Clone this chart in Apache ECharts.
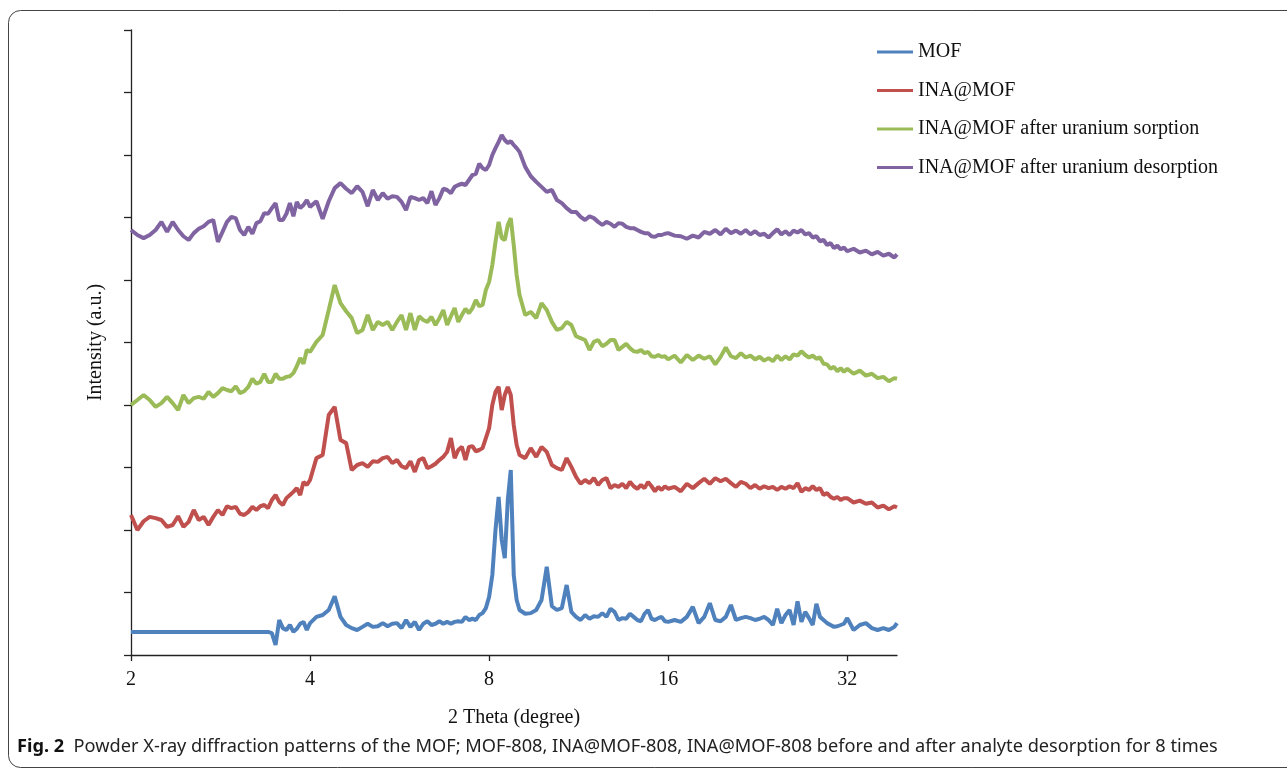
<!DOCTYPE html>
<html>
<head>
<meta charset="utf-8">
<title>PXRD patterns</title>
<script src="https://cdn.jsdelivr.net/npm/echarts@6/dist/echarts.min.js"></script>
<style>
  html, body { margin: 0; padding: 0; background: #fff; }
  #chart { width: 1287px; height: 770px; }
</style>
</head>
<body>
<div id="chart"></div>
<script>
// 2 theta sample positions (degree)
const theta = [
  2, 2.05, 2.1, 2.15, 2.2, 2.25, 2.3, 2.35, 2.4, 2.45, 2.5, 2.55, 2.6, 2.65, 2.7, 2.75, 2.8, 2.85, 2.9, 2.95,
  3, 3.05, 3.1, 3.15, 3.2, 3.25, 3.3, 3.35, 3.4, 3.45, 3.5, 3.55, 3.6, 3.65, 3.7, 3.75, 3.8, 3.85, 3.9, 3.95,
  4, 4.1, 4.2, 4.3, 4.4, 4.5, 4.6, 4.7, 4.8, 4.9, 5, 5.1, 5.2, 5.3, 5.4, 5.5, 5.6, 5.7, 5.8, 5.9,
  6, 6.1, 6.2, 6.3, 6.4, 6.5, 6.6, 6.7, 6.8, 6.9, 7, 7.1, 7.2, 7.3, 7.4, 7.5, 7.6, 7.7, 7.8, 7.9,
  8, 8.1, 8.2, 8.3, 8.4, 8.5, 8.6, 8.7, 8.8, 8.9, 9, 9.2, 9.4, 9.6, 9.8, 10, 10.2, 10.4, 10.6, 10.8,
  11, 11.2, 11.4, 11.6, 11.8, 12, 12.2, 12.4, 12.6, 12.8, 13, 13.2, 13.4, 13.6, 13.8, 14, 14.2, 14.4, 14.6, 14.8,
  15, 15.2, 15.4, 15.6, 15.8,
  16, 16.4, 16.8, 17.2, 17.6, 18, 18.4, 18.8, 19.2, 19.6, 20, 20.4, 20.8, 21.2, 21.6, 22, 22.4, 22.8, 23.2, 23.6,
  24, 24.4, 24.8, 25.2, 25.6, 26, 26.4, 26.8, 27.2, 27.6, 28, 28.4, 28.8, 29.2, 29.6, 30, 30.4, 30.8, 31.2, 31.6,
  32, 32.8, 33.6, 34.4, 35.2, 36, 36.8, 37.6, 38.4, 38.8
];

const mof = [
  0.37, 0.37, 0.37, 0.37, 0.37, 0.37, 0.37, 0.37, 0.37, 0.37, 0.37, 0.37, 0.37, 0.37, 0.37, 0.37, 0.37, 0.37, 0.37, 0.37,
  0.37, 0.37, 0.37, 0.37, 0.37, 0.37, 0.37, 0.37, 0.37, 0.35, 0.16, 0.56, 0.43, 0.40, 0.48, 0.37, 0.42, 0.50, 0.53, 0.40,
  0.51, 0.61, 0.64, 0.72, 0.94, 0.61, 0.48, 0.43, 0.40, 0.45, 0.50, 0.45, 0.46, 0.51, 0.46, 0.50, 0.51, 0.43, 0.56, 0.45,
  0.53, 0.40, 0.50, 0.54, 0.48, 0.50, 0.54, 0.50, 0.53, 0.50, 0.53, 0.54, 0.53, 0.61, 0.56, 0.58, 0.56, 0.64, 0.67, 0.75,
  0.93, 1.28, 2.00, 2.53, 1.84, 1.55, 2.48, 2.96, 1.28, 0.88, 0.72, 0.66, 0.67, 0.72, 0.88, 1.41, 0.78, 0.72, 0.75, 1.12,
  0.69, 0.61, 0.56, 0.64, 0.58, 0.62, 0.61, 0.67, 0.61, 0.74, 0.69, 0.56, 0.59, 0.58, 0.66, 0.61, 0.56, 0.54, 0.66, 0.72,
  0.58, 0.56, 0.59, 0.61, 0.54,
  0.53, 0.56, 0.53, 0.61, 0.77, 0.51, 0.61, 0.83, 0.56, 0.54, 0.61, 0.80, 0.56, 0.59, 0.61, 0.59, 0.56, 0.58, 0.61, 0.56,
  0.48, 0.74, 0.51, 0.64, 0.72, 0.48, 0.86, 0.53, 0.69, 0.59, 0.48, 0.82, 0.61, 0.56, 0.51, 0.48, 0.45, 0.46, 0.48, 0.50,
  0.59, 0.40, 0.48, 0.51, 0.43, 0.40, 0.43, 0.40, 0.45, 0.51
];

const inaMof = [
  2.24, 2.00, 2.14, 2.21, 2.19, 2.16, 2.05, 2.08, 2.22, 2.05, 2.13, 2.32, 2.16, 2.21, 2.08, 2.21, 2.32, 2.24, 2.38, 2.35,
  2.37, 2.26, 2.24, 2.29, 2.37, 2.32, 2.38, 2.40, 2.35, 2.48, 2.56, 2.45, 2.40, 2.51, 2.56, 2.61, 2.67, 2.56, 2.77, 2.72,
  2.80, 3.15, 3.20, 3.84, 3.97, 3.44, 3.39, 2.96, 3.04, 3.07, 3.01, 3.10, 3.09, 3.15, 3.17, 3.07, 3.12, 3.02, 2.99, 3.10,
  2.93, 3.12, 3.15, 2.99, 3.02, 3.06, 3.12, 3.17, 3.25, 3.47, 3.15, 3.28, 3.33, 3.12, 3.33, 3.34, 3.26, 3.28, 3.31, 3.47,
  3.63, 4.00, 4.21, 4.29, 3.92, 4.16, 4.29, 4.16, 3.68, 3.36, 3.20, 3.15, 3.31, 3.17, 3.33, 3.25, 3.04, 2.99, 2.96, 3.15,
  3.01, 2.85, 2.74, 2.80, 2.75, 2.83, 2.72, 2.80, 2.83, 2.67, 2.72, 2.69, 2.74, 2.67, 2.77, 2.70, 2.66, 2.72, 2.67, 2.77,
  2.70, 2.62, 2.69, 2.64, 2.70,
  2.66, 2.69, 2.62, 2.74, 2.67, 2.75, 2.82, 2.74, 2.83, 2.78, 2.82, 2.75, 2.69, 2.77, 2.74, 2.67, 2.72, 2.66, 2.70, 2.67,
  2.69, 2.64, 2.69, 2.66, 2.70, 2.67, 2.75, 2.61, 2.67, 2.64, 2.70, 2.64, 2.67, 2.56, 2.59, 2.53, 2.50, 2.53, 2.48, 2.51,
  2.51, 2.44, 2.47, 2.42, 2.44, 2.36, 2.39, 2.33, 2.38, 2.36
];

const afterSorption = [
  4.00, 4.08, 4.16, 4.08, 3.97, 4.03, 4.13, 4.03, 3.92, 4.16, 4.03, 4.11, 4.13, 4.10, 4.21, 4.13, 4.19, 4.27, 4.24, 4.22,
  4.30, 4.19, 4.22, 4.29, 4.42, 4.34, 4.37, 4.50, 4.37, 4.37, 4.50, 4.42, 4.42, 4.45, 4.46, 4.51, 4.62, 4.75, 4.66, 4.88,
  4.85, 5.01, 5.12, 5.52, 5.92, 5.63, 5.50, 5.39, 5.15, 5.20, 5.44, 5.20, 5.33, 5.28, 5.33, 5.20, 5.33, 5.44, 5.20, 5.47,
  5.20, 5.42, 5.36, 5.33, 5.41, 5.28, 5.39, 5.52, 5.28, 5.42, 5.55, 5.33, 5.44, 5.54, 5.47, 5.55, 5.68, 5.58, 5.60, 5.84,
  5.97, 6.24, 6.61, 6.93, 6.67, 6.64, 6.88, 6.99, 6.56, 6.08, 5.76, 5.44, 5.49, 5.39, 5.63, 5.52, 5.33, 5.20, 5.23, 5.33,
  5.28, 5.10, 5.07, 5.04, 4.88, 5.01, 5.04, 4.94, 4.98, 5.04, 5.04, 4.88, 4.93, 4.98, 4.91, 4.86, 4.85, 4.88, 4.83, 4.85,
  4.78, 4.77, 4.80, 4.77, 4.78,
  4.73, 4.79, 4.68, 4.80, 4.72, 4.79, 4.74, 4.78, 4.65, 4.77, 4.92, 4.78, 4.75, 4.83, 4.76, 4.79, 4.73, 4.77, 4.71, 4.75,
  4.70, 4.79, 4.72, 4.78, 4.73, 4.81, 4.79, 4.86, 4.80, 4.76, 4.79, 4.74, 4.76, 4.66, 4.65, 4.58, 4.61, 4.54, 4.59, 4.53,
  4.58, 4.50, 4.55, 4.47, 4.50, 4.43, 4.45, 4.38, 4.43, 4.42
];

const afterDesorption = [
  6.80, 6.72, 6.67, 6.72, 6.80, 6.93, 6.77, 6.93, 6.80, 6.70, 6.64, 6.75, 6.82, 6.86, 6.93, 6.96, 6.61, 6.77, 6.93, 7.01,
  6.99, 6.80, 6.72, 6.85, 6.74, 6.91, 6.94, 7.07, 7.06, 7.15, 7.23, 6.96, 6.96, 7.06, 7.23, 7.02, 7.25, 7.15, 7.20, 7.28,
  7.17, 7.26, 6.98, 7.26, 7.47, 7.55, 7.46, 7.39, 7.50, 7.41, 7.18, 7.44, 7.28, 7.39, 7.30, 7.34, 7.33, 7.25, 7.12, 7.33,
  7.31, 7.28, 7.31, 7.23, 7.42, 7.20, 7.31, 7.46, 7.44, 7.39, 7.49, 7.52, 7.54, 7.52, 7.60, 7.68, 7.70, 7.86, 7.79, 7.76,
  7.84, 8.00, 8.11, 8.21, 8.32, 8.24, 8.19, 8.22, 8.16, 8.11, 8.05, 7.81, 7.66, 7.57, 7.49, 7.41, 7.44, 7.28, 7.23, 7.15,
  7.09, 7.09, 7.01, 6.96, 7.02, 6.99, 6.93, 6.88, 6.93, 6.90, 6.85, 6.91, 6.90, 6.85, 6.83, 6.83, 6.80, 6.77, 6.75, 6.75,
  6.70, 6.69, 6.72, 6.72, 6.74,
  6.75, 6.71, 6.70, 6.66, 6.71, 6.68, 6.77, 6.74, 6.80, 6.73, 6.82, 6.75, 6.79, 6.74, 6.80, 6.73, 6.78, 6.72, 6.74, 6.68,
  6.75, 6.81, 6.73, 6.78, 6.72, 6.79, 6.76, 6.80, 6.73, 6.75, 6.68, 6.70, 6.62, 6.64, 6.56, 6.59, 6.51, 6.55, 6.49, 6.52,
  6.46, 6.50, 6.44, 6.47, 6.41, 6.45, 6.39, 6.42, 6.36, 6.41
];

const seriesNames = ['MOF', 'INA@MOF', 'INA@MOF after uranium sorption', 'INA@MOF after uranium desorption'];
const seriesColors = ['#4F81BD', '#C0504D', '#9BBB59', '#8064A2'];
const seriesValues = [mof, inaMof, afterSorption, afterDesorption];

const serif = '"Liberation Serif", "Times New Roman", serif';

let myChart = echarts.init(document.getElementById('chart'));
myChart.setOption({
  animation: false,
  backgroundColor: '#fff',
  color: seriesColors,
  grid: {
    left: 131,
    right: 390,
    top: 30,
    bottom: 115
  },
  legend: {
    orient: 'vertical',
    left: 872,
    top: 37,
    itemWidth: 36,
    itemHeight: 3,
    itemGap: 18.5,
    icon: 'rect',
    textStyle: {
      fontFamily: serif,
      fontSize: 20,
      color: '#111'
    },
    data: seriesNames
  },
  xAxis: {
    type: 'log',
    logBase: 2,
    min: 2,
    max: 38.8,
    name: '2 Theta (degree)',
    nameLocation: 'middle',
    nameGap: 53,
    nameTextStyle: { fontFamily: serif, fontSize: 20, color: '#111' },
    axisLine: { lineStyle: { color: '#222', width: 1.3 } },
    axisTick: { length: 6, lineStyle: { color: '#222', width: 1.3 } },
    axisLabel: {
      fontFamily: serif,
      fontSize: 20,
      color: '#111',
      margin: 15,
      showMaxLabel: false
    },
    splitLine: { show: false }
  },
  yAxis: {
    type: 'value',
    min: 0,
    max: 10,
    interval: 1,
    name: 'Intensity (a.u.)',
    nameLocation: 'middle',
    nameGap: 25,
    nameTextStyle: { fontFamily: serif, fontSize: 20, color: '#111' },
    axisLine: { show: true, lineStyle: { color: '#222', width: 1.3 } },
    axisTick: { show: true, length: 7, lineStyle: { color: '#222', width: 1.3 } },
    axisLabel: { show: false },
    splitLine: { show: false }
  },
  series: seriesNames.map((name, k) => ({
    name: name,
    type: 'line',
    symbol: 'none',
    lineStyle: { width: 4, color: seriesColors[k] },
    data: theta.map((t, i) => [t, seriesValues[k][i]])
  })),
  graphic: [
    {
      type: 'rect',
      silent: true,
      shape: { x: 8.5, y: 10.5, width: 1300, height: 757, r: 12 },
      style: { fill: 'none', stroke: '#444', lineWidth: 1 }
    },
    {
      type: 'text',
      left: 17,
      top: 738,
      style: {
        text: '{b|Fig. 2}  Powder X-ray diffraction patterns of the MOF; MOF-808, INA@MOF-808, INA@MOF-808 before and after analyte desorption for 8 times',
        fontFamily: '"Noto Sans", "Open Sans", sans-serif',
        fontSize: 18.2,
        fill: '#222',
        rich: {
          b: { fontFamily: '"Noto Sans", "Open Sans", sans-serif', fontSize: 18.2, fontWeight: 'bold', fill: '#111' }
        }
      }
    }
  ]
});
</script>
</body>
</html>
